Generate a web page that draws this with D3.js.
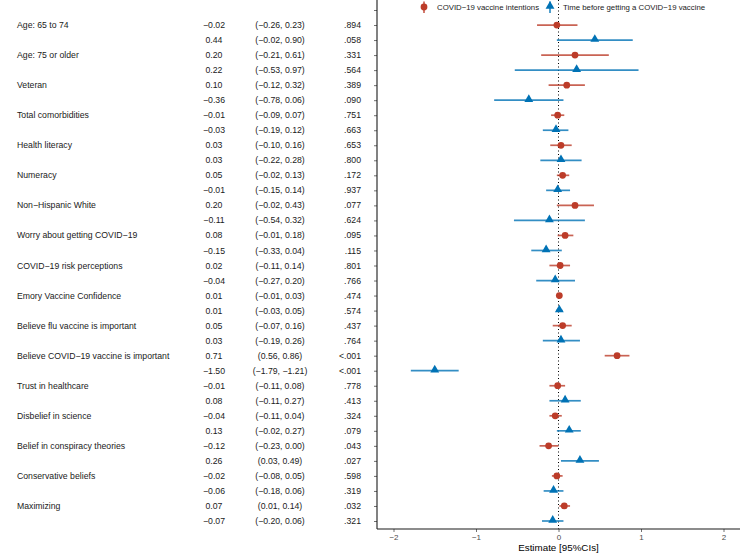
<!DOCTYPE html>
<html>
<head>
<meta charset="utf-8">
<script src="https://cdn.jsdelivr.net/npm/d3@7"></script>
<style>
  html, body { margin: 0; padding: 0; background: #fff; }
  svg { display: block; font-family: "Liberation Sans", Arial, Helvetica, sans-serif; }
</style>
</head>
<body>
<svg id="chart" width="740" height="553"></svg>
<script>
// ---- data ----
const variables = [
  "Age: 65 to 74", "Age: 75 or older", "Veteran", "Total comorbidities",
  "Health literacy", "Numeracy", "Non\u2212Hispanic White",
  "Worry about getting COVID\u221219", "COVID\u221219 risk perceptions",
  "Emory Vaccine Confidence", "Believe flu vaccine is important",
  "Believe COVID\u221219 vaccine is important", "Trust in healthcare",
  "Disbelief in science", "Belief in conspiracy theories",
  "Conservative beliefs", "Maximizing"
];
const seriesNames = ["COVID\u221219 vaccine intentions", "Time before getting a COVID\u221219 vaccine"];

// Series 1: COVID-19 vaccine intentions
const intentEst = [-0.02, 0.20, 0.10, -0.01, 0.03, 0.05, 0.20, 0.08, 0.02, 0.01, 0.05, 0.71, -0.01, -0.04, -0.12, -0.02, 0.07];
const intentLo  = [-0.26, -0.21, -0.12, -0.09, -0.10, -0.02, -0.02, -0.01, -0.11, -0.01, -0.07, 0.56, -0.11, -0.11, -0.23, -0.08, 0.01];
const intentHi  = [0.23, 0.61, 0.32, 0.07, 0.16, 0.13, 0.43, 0.18, 0.14, 0.03, 0.16, 0.86, 0.08, 0.04, 0.00, 0.05, 0.14];
const intentP   = [".894", ".331", ".389", ".751", ".653", ".172", ".077", ".095", ".801", ".474", ".437", "<.001", ".778", ".324", ".043", ".598", ".032"];

// Series 2: Time before getting a COVID-19 vaccine
const timeEst = [0.44, 0.22, -0.36, -0.03, 0.03, -0.01, -0.11, -0.15, -0.04, 0.01, 0.03, -1.50, 0.08, 0.13, 0.26, -0.06, -0.07];
const timeLo  = [-0.02, -0.53, -0.78, -0.19, -0.22, -0.15, -0.54, -0.33, -0.27, -0.03, -0.19, -1.79, -0.11, -0.02, 0.03, -0.18, -0.20];
const timeHi  = [0.90, 0.97, 0.06, 0.12, 0.28, 0.14, 0.32, 0.04, 0.20, 0.05, 0.26, -1.21, 0.27, 0.27, 0.49, 0.06, 0.06];
const timeP   = [".058", ".564", ".090", ".663", ".800", ".937", ".624", ".115", ".766", ".574", ".764", "<.001", ".413", ".079", ".027", ".319", ".321"];

const xTicks = [-2, -1, 0, 1, 2];
const xDomain = [-2.2, 2.2];
const axisTitle = "Estimate [95%CIs]";

// ---- build rows ----
const rows = [];
variables.forEach((v, i) => {
  rows.push({key: "r" + (2*i), label: v, series: 0, est: intentEst[i], lo: intentLo[i], hi: intentHi[i], p: intentP[i]});
  rows.push({key: "r" + (2*i+1), label: "", series: 1, est: timeEst[i], lo: timeLo[i], hi: timeHi[i], p: timeP[i]});
});

const colors = ["#BC3C29", "#0072B5"];
const fmt = d3.format(".2f");
const fs = 8.7;

const svg = d3.select("#chart");

const x = d3.scaleLinear().domain(xDomain).range([377, 740]);
const y = d3.scalePoint().domain(["top"].concat(rows.map(r => r.key))).range([10, 521]);
const plotBottom = 529;

// ---- left table text ----
const table = svg.append("g").attr("font-size", fs).attr("fill", "#1a1a1a");
table.selectAll("text.lab").data(rows.filter(r => r.label)).join("text")
  .attr("class", "lab").attr("x", 17).attr("y", d => y(d.key)).attr("dy", "0.35em")
  .text(d => d.label);
table.selectAll("text.est").data(rows).join("text")
  .attr("class", "est").attr("x", 214).attr("y", d => y(d.key)).attr("dy", "0.35em")
  .attr("text-anchor", "middle").text(d => fmt(d.est));
table.selectAll("text.ci").data(rows).join("text")
  .attr("class", "ci").attr("x", 280).attr("y", d => y(d.key)).attr("dy", "0.35em")
  .attr("text-anchor", "middle").text(d => "(" + fmt(d.lo) + ", " + fmt(d.hi) + ")");
table.selectAll("text.p").data(rows).join("text")
  .attr("class", "p").attr("x", 361).attr("y", d => y(d.key)).attr("dy", "0.35em")
  .attr("text-anchor", "end").text(d => d.p);

// ---- axes ----
const yAxis = d3.axisLeft(y).tickSize(3).tickFormat("");
const gy = svg.append("g").attr("transform", "translate(377,0)").call(yAxis);
gy.select(".domain").remove();
gy.selectAll(".tick line").attr("stroke", "#4d4d4d").attr("stroke-width", 0.8);
svg.append("line").attr("x1", 377).attr("x2", 377).attr("y1", 0).attr("y2", plotBottom)
  .attr("stroke", "#1a1a1a").attr("stroke-width", 1.1);

const xAxis = d3.axisBottom(x).tickValues(xTicks).tickSize(3).tickPadding(2).tickFormat(d3.format("d"));
const gx = svg.append("g").attr("transform", `translate(0,${plotBottom})`).call(xAxis);
gx.select(".domain").remove();
gx.selectAll(".tick line").attr("stroke", "#4d4d4d").attr("stroke-width", 0.8);
gx.selectAll(".tick text").attr("fill", "#4d4d4d").attr("font-size", 8)
  .attr("font-family", "Liberation Sans, Arial, sans-serif");
svg.append("line").attr("x1", 377).attr("x2", 740).attr("y1", plotBottom).attr("y2", plotBottom)
  .attr("stroke", "#1a1a1a").attr("stroke-width", 1.1);

svg.append("text").attr("x", (377 + 740) / 2).attr("y", 548).attr("dy", "0.35em")
  .attr("text-anchor", "middle").attr("font-size", 9.8).attr("fill", "#000").text(axisTitle);

// ---- zero reference line ----
svg.append("line").attr("x1", x(0)).attr("x2", x(0)).attr("y1", 0).attr("y2", plotBottom)
  .attr("stroke", "#000").attr("stroke-width", 1).attr("stroke-dasharray", "1,2.5");

// ---- marks ----
const marks = svg.append("g");
marks.selectAll("line.ci").data(rows).join("line")
  .attr("class", "ci")
  .attr("x1", d => x(d.lo)).attr("x2", d => x(d.hi))
  .attr("y1", d => y(d.key)).attr("y2", d => y(d.key))
  .attr("stroke", d => colors[d.series]).attr("stroke-opacity", 0.8).attr("stroke-width", 1.7);

const tri = d3.symbol().type(d3.symbolTriangle).size(34);
marks.selectAll("path.pt").data(rows).join("path")
  .attr("class", "pt")
  .attr("transform", d => `translate(${x(d.est)},${y(d.key) - (d.series ? 0.8 : 0)})`)
  .attr("d", d => d.series ? tri() : d3.symbol().type(d3.symbolCircle).size(36)())
  .attr("fill", d => colors[d.series]);

// ---- legend ----
const legend = svg.append("g").attr("font-size", 7.8).attr("fill", "#1a1a1a");
const legendItems = [{x: 424, tx: 437}, {x: 550, tx: 563}];
legendItems.forEach((li, i) => {
  legend.append("line").attr("x1", li.x).attr("x2", li.x).attr("y1", 1.5).attr("y2", 13)
    .attr("stroke", colors[i]).attr("stroke-opacity", 0.8).attr("stroke-width", 1.7);
  legend.append("path")
    .attr("transform", `translate(${li.x},${7 - (i ? 0.8 : 0)})`)
    .attr("d", i ? tri() : d3.symbol().type(d3.symbolCircle).size(36)())
    .attr("fill", colors[i]);
  legend.append("text").attr("x", li.tx).attr("y", 7).attr("dy", "0.35em").text(seriesNames[i]);
});
</script>
</body>
</html>
